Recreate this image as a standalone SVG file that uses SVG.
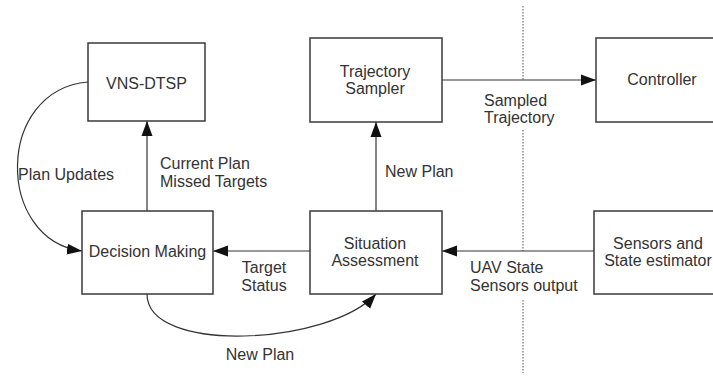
<svg xmlns="http://www.w3.org/2000/svg" width="713" height="376" viewBox="0 0 713 376">
  <defs>
    <marker id="arrow" markerUnits="userSpaceOnUse" markerWidth="16" markerHeight="12" viewBox="0 0 16 12" refX="15" refY="6" orient="auto">
      <path d="M0,0.5 L15,6 L0,11.5 z" fill="#111"/>
    </marker>
    <style>
      .box { fill: #fff; stroke: #3a3a3a; stroke-width: 1.5; }
      .lbl { font-family: "Liberation Sans", Arial, sans-serif; font-size: 16px; fill: #333; }
      .mid { text-anchor: middle; }
      .edge { fill: none; stroke: #333; stroke-width: 1.2; marker-end: url(#arrow); }
      .divider { fill: none; stroke: #555; stroke-width: 1; stroke-dasharray: 1.5 1.5; }
    </style>
  </defs>
  <rect width="713" height="376" fill="#fff"/>

  <!-- boundary between planning and vehicle side -->
  <g id="divider">
    <path class="divider" d="M523,6 V80 M523,130 V251 M523,300 V373"/>
  </g>

  <!-- connectors -->
  <g id="connectors">
    <path class="edge" d="M147,211 V121"/>
    <path class="edge" d="M88,82 C-5,90 -5,240 82,251"/>
    <path class="edge" d="M310,251 H213"/>
    <path class="edge" d="M147,294 C147,355 330,345 376,294"/>
    <path class="edge" d="M376,211 V122"/>
    <path class="edge" d="M442,80 H596"/>
    <path class="edge" d="M594,251 H442"/>
  </g>

  <!-- connector labels -->
  <g id="labels">
    <text class="lbl" x="18" y="180">Plan Updates</text>
    <text class="lbl" x="160" y="169">Current Plan</text>
    <text class="lbl" x="160" y="187">Missed Targets</text>
    <text class="lbl" x="385" y="177">New Plan</text>
    <text class="lbl" x="484" y="106">Sampled</text>
    <text class="lbl" x="484" y="123">Trajectory</text>
    <text class="lbl mid" x="264" y="273">Target</text>
    <text class="lbl mid" x="264" y="291">Status</text>
    <text class="lbl" x="470" y="273">UAV State</text>
    <text class="lbl" x="470" y="291">Sensors output</text>
    <text class="lbl mid" x="260" y="360">New Plan</text>
  </g>

  <g id="vns-dtsp">
    <rect class="box" x="88" y="43" width="117" height="78"/>
    <text class="lbl mid" x="146.5" y="89">VNS-DTSP</text>
  </g>

  <g id="decision-making">
    <rect class="box" x="82" y="211" width="131" height="83"/>
    <text class="lbl mid" x="147.5" y="257">Decision Making</text>
  </g>

  <g id="situation-assessment">
    <rect class="box" x="310" y="211" width="132" height="83"/>
    <text class="lbl mid" x="375" y="249">Situation</text>
    <text class="lbl mid" x="375" y="266">Assessment</text>
  </g>

  <g id="trajectory-sampler">
    <rect class="box" x="310" y="38" width="132" height="84"/>
    <text class="lbl mid" x="375" y="77">Trajectory</text>
    <text class="lbl mid" x="375" y="94">Sampler</text>
  </g>

  <g id="controller">
    <rect class="box" x="596" y="38" width="132" height="84"/>
    <text class="lbl mid" x="662" y="85">Controller</text>
  </g>

  <g id="sensors">
    <rect class="box" x="594" y="211" width="132" height="83"/>
    <text class="lbl mid" x="658" y="249">Sensors and</text>
    <text class="lbl mid" x="658" y="266">State estimator</text>
  </g>
</svg>
